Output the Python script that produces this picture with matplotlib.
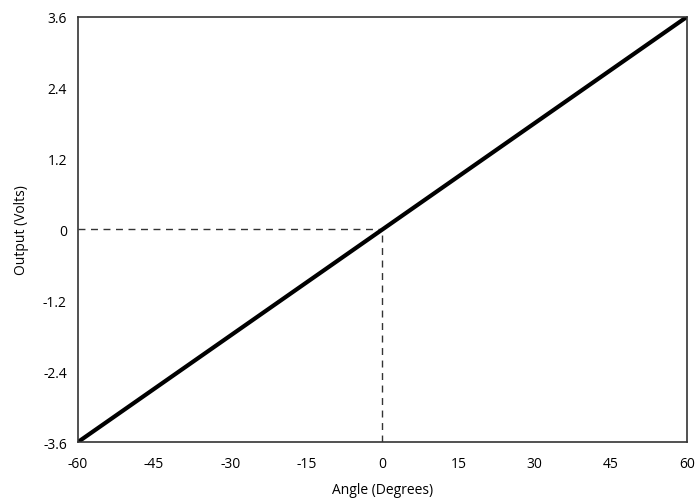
import matplotlib
matplotlib.use("Agg")
import matplotlib.pyplot as plt

# 数据
angle = [-60, 60]
output = [-3.6, 3.6]
x_ticks = [-60, -45, -30, -15, 0, 15, 30, 45, 60]
y_ticks = [-3.6, -2.4, -1.2, 0, 1.2, 2.4, 3.6]
y_tick_labels = ["-3.6", "-2.4", "-1.2", "0", "1.2", "2.4", "3.6"]

plt.rcParams['font.family'] = ['Open Sans', 'DejaVu Sans']
plt.rcParams['axes.unicode_minus'] = False

fig = plt.figure(figsize=(7, 5.02), dpi=100)
ax = fig.add_axes([0.1114, 0.1175, 0.870, 0.847])

# 参考虚线
ax.plot([-60, 0], [0, 0], color="#333333", lw=1.0, dashes=(5, 4))
ax.plot([0, 0], [-3.6, 0], color="#333333", lw=1.0, dashes=(5, 4))

# 主线
ax.plot(angle, output, color="black", lw=3)

ax.set_xlim(-60, 60)
ax.set_ylim(-3.6, 3.6)
ax.set_xticks(x_ticks)
ax.set_yticks(y_ticks)
ax.set_yticklabels(y_tick_labels)
ax.tick_params(length=0, labelsize=10, pad=8)
ax.tick_params(axis='x', pad=10)

for s in ax.spines.values():
    s.set_color("#333333")
    s.set_linewidth(1.2)

ax.set_xlabel("Angle (Degrees)", fontsize=10, labelpad=8)
ax.set_ylabel("Output (Volts)", fontsize=10, labelpad=10)

plt.savefig("out.png", dpi=100)
